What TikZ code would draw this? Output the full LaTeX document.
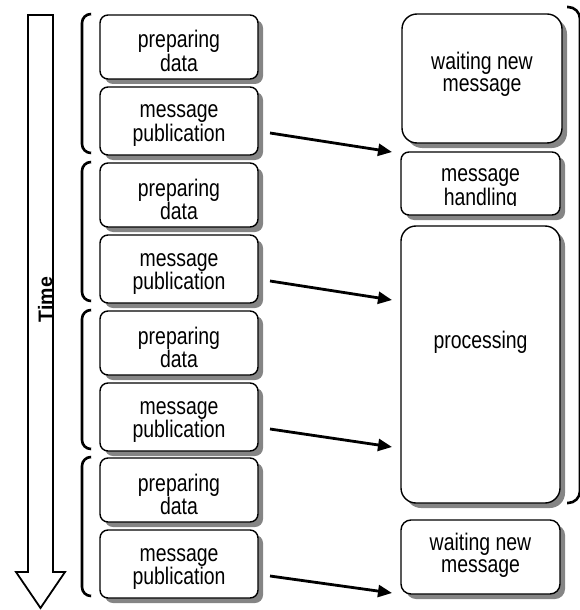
\documentclass[tikz,border=0pt]{standalone}
\usepackage{fontspec}
\setmainfont{Liberation Sans}
\newfontfamily\boxfont[FakeStretch=0.81]{Liberation Sans}
\usetikzlibrary{shadows,arrows.meta}
\newcommand\twoline[2]{\begin{tabular}[t]{@{}c@{}}#1\\#2\end{tabular}}
\begin{document}
\begin{tikzpicture}[x=1bp,y=-1bp,
  boxtxt/.style={font=\boxfont\fontsize{24bp}{22bp}\selectfont, inner sep=0pt, anchor=base},
  sbox/.style={draw=black, line width=1.4bp, fill=white, inner sep=0pt, outer sep=0pt,
    drop shadow={shadow xshift=5bp, shadow yshift=-5bp, fill=black!48, opacity=1}},
  lbox/.style={sbox, rounded corners=8bp, minimum width=158bp},
  brk/.style={line width=2.6bp, rounded corners=9bp},
  msgarrow/.style={line width=2.8bp, -{Triangle[length=14bp,width=12bp]}}
]
\useasboundingbox (0,0) rectangle (580,610);
% Time arrow
\draw[line width=1.8bp, fill=white] (28,15) -- (53,15) -- (53,572) -- (65,572) -- (40.5,608) -- (16,572) -- (28,572) -- cycle;
\node[rotate=90, anchor=base, inner sep=0pt, font=\fontsize{19.5bp}{22bp}\selectfont\bfseries] (time) at (52,299.5) {Time};
% left groups
\foreach \i/\dy in {1/0,2/148,3/296,4/443}{
  \node[lbox, minimum height=64bp] (p\i) at (179,47+\dy) {};
  \node[boxtxt] (pt\i) at (179,48+\dy) {\twoline{preparing}{data}};
  \node[lbox, minimum height=68bp] (m\i) at (179,121+\dy) {};
  \node[boxtxt] (mt\i) at (179,118+\dy) {\twoline{message}{publication}};
  \draw[brk] (91,14+\dy) -- (82,14+\dy) -- (82,153+\dy) -- (91,153+\dy);
  \coordinate (s\i) at (270,133+\dy);
}
\coordinate (e1) at (392,152);
\coordinate (e2) at (392,300);
\coordinate (e3) at (392,447);
\coordinate (e4) at (392,593);
% right boxes
\node[sbox, rounded corners=15bp, minimum width=160bp, minimum height=129bp] (w1) at (482,78.5) {};
\node[boxtxt] (w1t) at (482,70) {\twoline{waiting new}{message}};
\node[sbox, rounded corners=8bp, minimum width=159bp, minimum height=63bp] (h) at (480.5,183.5) {};
\begin{scope}
\clip (401,152) rectangle (560,205.3);
\node[boxtxt] (ht) at (480.5,182) {\twoline{message}{handling}};
\end{scope}
\node[sbox, rounded corners=15bp, minimum width=159bp, minimum height=277bp] (pr) at (480.5,364.5) {};
\node[boxtxt] (prt) at (480.5,348) {processing};
\node[sbox, rounded corners=10bp, minimum width=159bp, minimum height=74bp] (w2) at (480.5,557) {};
\node[boxtxt] (w2t) at (480.5,550) {\twoline{waiting new}{message}};
% right bracket
\draw[brk, rounded corners=12bp] (567,7) -- (580,7) -- (580,503) -- (567,503);
% arrows
\foreach \i in {1,2,3,4}{
  \draw[msgarrow] (s\i) -- (e\i);
}
\end{tikzpicture}
\end{document}
